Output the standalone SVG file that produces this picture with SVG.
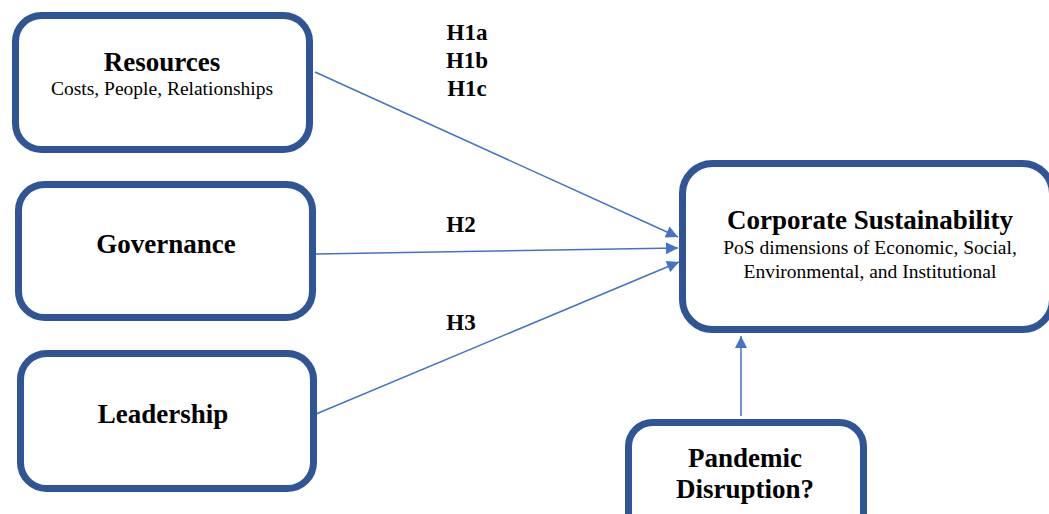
<svg xmlns="http://www.w3.org/2000/svg" width="1049" height="514" viewBox="0 0 1049 514">
<defs>
<style>
.box{fill:#fff;stroke:#2F5597;stroke-width:7}
.t{font-weight:bold;fill:#000;text-anchor:middle}
.s{fill:#000;text-anchor:middle;font-size:19.5px}
.c{stroke:#4472C4;stroke-width:1.5;fill:none}
</style>
<marker id="ah2" viewBox="0 0 10 10" refX="10" refY="5" markerWidth="14" markerHeight="12" markerUnits="userSpaceOnUse" orient="auto">
<path d="M0,0 L10,5 L0,10 Z" fill="#4472C4"/>
</marker>
</defs>
<rect width="1049" height="514" fill="#fff"/>
<g id="connectors">
<line class="c" x1="315" y1="72" x2="678" y2="237" marker-end="url(#ah2)"/>
<line class="c" x1="316" y1="254" x2="678" y2="248" marker-end="url(#ah2)"/>
<line class="c" x1="316" y1="414" x2="679" y2="262" marker-end="url(#ah2)"/>
<line class="c" x1="741" y1="416" x2="741" y2="336" marker-end="url(#ah2)"/>
</g>
<g font-family="'Liberation Serif', 'Times New Roman', serif">
<g id="labels">
<text class="t" x="467" y="40" font-size="23">H1a</text>
<text class="t" x="467" y="68" font-size="23">H1b</text>
<text class="t" x="467" y="96" font-size="23">H1c</text>
<text class="t" x="461" y="232" font-size="23">H2</text>
<text class="t" x="461" y="330" font-size="23">H3</text>
</g>
<g id="resources">
<rect class="box" x="15.5" y="15.5" width="294" height="134" rx="26"/>
<text class="t" x="162" y="71" font-size="27">Resources</text>
<text class="s" x="162" y="95">Costs, People, Relationships</text>
</g>
<g id="governance">
<rect class="box" x="18.5" y="184.5" width="294" height="133" rx="26"/>
<text class="t" x="166" y="253" font-size="27">Governance</text>
</g>
<g id="leadership">
<rect class="box" x="20.5" y="353.5" width="293" height="135" rx="26"/>
<text class="t" x="163" y="423" font-size="27">Leadership</text>
</g>
<g id="corporate">
<rect class="box" x="682.5" y="163.5" width="370" height="166" rx="30"/>
<text class="t" x="870" y="229" font-size="27">Corporate Sustainability</text>
<text class="s" x="870" y="254">PoS dimensions of Economic, Social,</text>
<text class="s" x="870" y="278">Environmental, and Institutional</text>
</g>
<g id="pandemic">
<rect class="box" x="628.5" y="422.5" width="235" height="120" rx="24"/>
<text class="t" x="745" y="467" font-size="27">Pandemic</text>
<text class="t" x="745" y="498" font-size="27">Disruption?</text>
</g>
</g>
</svg>
